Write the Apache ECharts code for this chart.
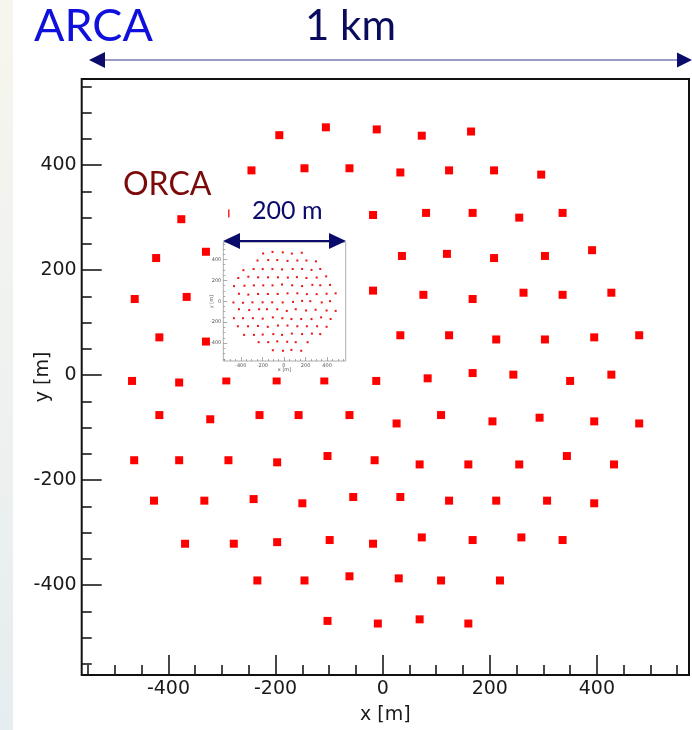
<!DOCTYPE html>
<html><head><meta charset="utf-8">
<script src="https://cdn.jsdelivr.net/npm/echarts@6/dist/echarts.min.js"></script>
<style>html,body{margin:0;padding:0;background:#fff}#c{width:692px;height:730px}</style>
</head><body><div id="c"></div>
<script>
// ARCA detection-unit footprint (metres)
const duX = [
  -193,-106,-11,73,165,
  -245,-146,-62,33,124,208,296,
  -376,-281,-197,-107,-18,81,168,255,336,
  -423,-330,-239,-147,-55,36,120,208,303,391,
  -463,-366,-279,-192,-106,-18,76,168,263,336,427,
  -417,-330,-240,-149,-58,33,124,212,303,395,479,
  -468,-380,-292,-198,-109,-12,84,168,244,350,427,
  -417,-322,-230,-157,-62,26,109,205,293,395,479,
  -464,-380,-288,-197,-103,-15,69,160,255,344,432,
  -427,-333,-241,-150,-55,33,124,212,307,395,
  -369,-278,-197,-99,-18,73,168,259,336,
  -234,-146,-62,30,109,219,
  -103,-9,69,160
];
const duY = [
  457,472,468,456,464,
  390,394,394,386,390,390,382,
  297,308,308,308,305,309,309,300,309,
  223,235,229,229,229,227,231,223,227,238,
  145,149,152,152,152,161,153,145,157,153,157,
  72,64,70,70,70,76,76,68,68,72,76,
  -11,-14,-10,-10,-10,-11,-6,4,1,-11,1,
  -76,-84,-76,-76,-76,-92,-76,-88,-81,-88,-92,
  -162,-162,-162,-166,-154,-162,-170,-170,-170,-154,-170,
  -239,-239,-236,-244,-232,-232,-239,-239,-239,-244,
  -321,-321,-318,-314,-321,-309,-314,-309,-314,
  -391,-391,-383,-387,-391,-391,
  -468,-473,-465,-473
];
const xTickValues = [-400,-200,0,200,400];
const yTickValues = [-400,-200,0,200,400];
const minorTickValues = [-550,-500,-450,-350,-300,-250,-150,-100,-50,50,100,150,250,300,350,450,500,550];
const xRange = [-562, 572];
const yRange = [-571, 564];

const points = duX.map((x,i)=>[x, duY[i]]);
const FONT = 'DejaVu Sans';
const INK = '#1a1a1a';

function mainAxis(dim, minor){
  const isX = dim === 'x';
  const r = isX ? xRange : yRange;
  const vals = minor ? minorTickValues : (isX ? xTickValues : yTickValues);
  const ax = {
    type:'value', gridIndex:0, min:r[0], max:r[1], position: isX?'bottom':'left',
    axisLine:{show:false, onZero:false}, splitLine:{show:false},
    axisTick:{show:true, inside:true, length: minor?10:20, customValues: vals, lineStyle:{color:INK,width:1.6}},
    axisLabel: minor ? {show:false} : {show:true, customValues: vals, fontFamily:FONT, fontSize:19, color:INK, margin:5},
    z: 3
  };
  if(!minor){
    ax.name = isX ? 'x [m]' : 'y [m]';
    ax.nameLocation = 'middle';
    ax.nameGap = isX ? 31 : 29;
    ax.nameMoveOverlap = false;
    ax.nameTextStyle = {fontFamily:FONT, fontSize:19, color:INK};
    if(!isX) ax.nameRotate = 90;
  }
  return ax;
}
function insetAxis(dim, minor){
  const isX = dim === 'x';
  const r = isX ? xRange : yRange;
  const vals = minor ? minorTickValues : (isX ? xTickValues : yTickValues);
  const ax = {
    type:'value', gridIndex:1, min:r[0], max:r[1], position: isX?'bottom':'left',
    axisLine:{show:false, onZero:false}, splitLine:{show:false},
    axisTick:{show:true, inside:true, length: minor?2:4, customValues: vals, lineStyle:{color:'#777',width:0.6}},
    axisLabel: minor ? {show:false} : {show:true, customValues: vals, fontFamily:FONT, fontSize:5, color:'#555', margin:2},
    z: 110
  };
  if(!minor){
    ax.name = isX ? 'x [m]' : 'y [m]';
    ax.nameLocation = 'middle';
    ax.nameGap = isX ? 6 : 9;
    ax.nameMoveOverlap = false;
    ax.nameTextStyle = {fontFamily:FONT, fontSize:5, color:'#555'};
    if(!isX) ax.nameRotate = 90;
  }
  return ax;
}

const chart = echarts.init(document.getElementById('c'), null, {renderer:'canvas'});
chart.setOption({
  animation:false,
  backgroundColor:'#ffffff',
  grid:[
    {left:81.7, top:79, width:607.3, height:596, show:true, borderColor:'#111', borderWidth:2, backgroundColor:'transparent', outerBoundsMode:'none', containLabel:false},
    {left:223.3, top:242.3, width:122.4, height:118.7, show:true, borderColor:'#999', borderWidth:0.8, backgroundColor:'transparent', z:105, outerBoundsMode:'none', containLabel:false}
  ],
  xAxis:[mainAxis('x',false), mainAxis('x',true), insetAxis('x',false), insetAxis('x',true)],
  yAxis:[mainAxis('y',false), mainAxis('y',true), insetAxis('y',false), insetAxis('y',true)],
  series:[
    {type:'scatter', xAxisIndex:0, yAxisIndex:0, data:points, symbol:'rect', symbolSize:8, itemStyle:{color:'#ff0000', opacity:1}, z:2, silent:true},
    {type:'scatter', xAxisIndex:2, yAxisIndex:2, data:points, symbol:'rect', symbolSize:2, itemStyle:{color:'#ee1111', opacity:1}, z:110, silent:true}
  ],
  graphic:{elements:[
    {type:'rect', shape:{x:0,y:0,width:13,height:730}, z:1,
     style:{fill:new echarts.graphic.LinearGradient(0,0,0,1,[{offset:0,color:'#f7f6ee'},{offset:1,color:'#e6edf0'}])}},
    // white backgrounds of the inset picture and its label
    {type:'rect', shape:{x:229.5,y:195,width:118,height:42}, z:100, style:{fill:'#ffffff'}},
    {type:'rect', shape:{x:210,y:236,width:150,height:141.5}, z:100, style:{fill:'#ffffff'}},
    // texts
    {type:'text', x:34, y:26, z:120, style:{text:'ARCA', font:'normal 45px Lato', fill:'#1010dd', verticalAlign:'middle', align:'left'}},
    {type:'text', x:305, y:26, z:120, style:{text:'1 km', font:'normal 42px Lato', fill:'#0b0b5e', verticalAlign:'middle', align:'left'}},
    {type:'text', x:123, y:185, z:120, style:{text:'ORCA', font:'normal 32px Lato', fill:'#7b0a0a', verticalAlign:'middle', align:'left'}},
    {type:'text', x:252, y:211, z:120, style:{text:'200 m', font:'normal 25px Lato', fill:'#0b0b6b', verticalAlign:'middle', align:'left'}},
    // 1 km arrow
    {type:'line', shape:{x1:100,y1:60,x2:680,y2:60}, z:120, style:{stroke:'#9a9ac8', lineWidth:2}},
    {type:'polygon', shape:{points:[[89,60],[105,52],[105,68]]}, z:121, style:{fill:'#0b0b6b'}},
    {type:'polygon', shape:{points:[[692,60],[677,52.5],[677,67.5]]}, z:121, style:{fill:'#0b0b6b'}},
    // 200 m arrow
    {type:'line', shape:{x1:235,y1:241,x2:335,y2:241}, z:120, style:{stroke:'#0b0b6b', lineWidth:2}},
    {type:'polygon', shape:{points:[[223,241],[240,233],[240,249]]}, z:121, style:{fill:'#0b0b6b'}},
    {type:'polygon', shape:{points:[[346,241],[329,233],[329,249]]}, z:121, style:{fill:'#0b0b6b'}}
  ]}
});
</script></body></html>
